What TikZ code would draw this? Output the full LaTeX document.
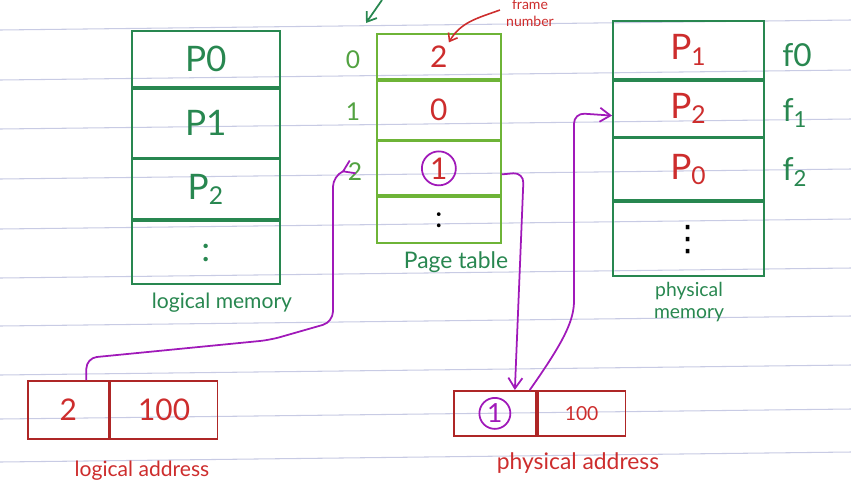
\documentclass[tikz,border=0pt]{standalone}
\usepackage{fontspec}
\setmainfont{Lato}
\newfontfamily\dotsfont{DejaVu Sans}
\usepackage{tikz}
\usetikzlibrary{arrows.meta}
\definecolor{memgreen}{RGB}{40,135,80}
\definecolor{tabgreen}{RGB}{110,180,55}
\definecolor{inkred}{RGB}{205,45,45}
\definecolor{inkpurple}{RGB}{160,25,185}
\definecolor{rulecol}{RGB}{200,203,228}

\begin{document}
\begin{tikzpicture}[x=0.02cm, y=-0.02cm,
    cell/.style={draw, line width=1pt, inner sep=0pt, anchor=north west},
    lmcell/.style={cell, memgreen, minimum width=2.96cm, font=\fontsize{20}{22}\selectfont},
    ptcell/.style={cell, tabgreen, minimum width=2.48cm, text=inkred, font=\fontsize{17}{19}\selectfont},
    pmcell/.style={cell, memgreen, minimum width=3.02cm, text=inkred, font=\fontsize{20}{22}\selectfont},
    addrcell/.style={cell, inkred!85!black, minimum height=1.16cm, text=inkred, font=\fontsize{17}{19}\selectfont},
    ring/.style={circle, draw=inkpurple, line width=1pt, inner sep=1pt, minimum size=0.68cm},
    idx/.style={text=tabgreen!60!memgreen, font=\fontsize{14}{16}\selectfont},
    flabel/.style={text=memgreen, font=\fontsize{18}{20}\selectfont},
    caption/.style={font=\fontsize{12}{14}\selectfont},
    parrow/.style={inkpurple, line width=1pt, -{Straight Barb[length=6pt,width=8pt]}},
    ruled/.style={rulecol, line width=0.6pt}]
  \useasboundingbox (0,0) rectangle (851,487);

  % paper lines
  \foreach \y in {25,75,124,174,224,273,321,370,414,457}
    \draw[ruled] (0,\y+5) -- (851,\y-5);

  % logical memory
  \node[lmcell, minimum height=1.12cm] (lm0) at (131,30) {P0};
  \node[lmcell, minimum height=1.38cm] (lm1) at (lm0.south west) {P1};
  \node[lmcell, minimum height=1.2cm] (lm2) at (lm1.south west) {P\textsubscript{2}};
  \node[lmcell, minimum height=1.26cm] (lm3) at (lm2.south west) {:};
  \node[caption, text=memgreen] (lmcap) at (222,303) {logical memory};

  % page table
  \node[ptcell, minimum height=0.9cm] (pt0) at (376,33) {2};
  \node[ptcell, minimum height=1.18cm] (pt1) at (pt0.south west) {0};
  \node[ptcell, minimum height=1.08cm] (pt2) at (pt1.south west) {};
  \node[ptcell, minimum height=0.92cm, text=black] (pt3) at (pt2.south west) {:};
  \node[ring, text=inkred, font=\fontsize{17}{19}\selectfont] (ptone) at (pt2) {1};
  \node[idx] (i0) at (353,60) {0};
  \node[idx] (i1) at (353,112) {1};
  \node[idx] (i2) at (355,172) {2};
  \node[caption, text=memgreen, font=\fontsize{13}{15}\selectfont] (ptcap) at (456,262) {Page table};
  \node[text=inkred, align=center, font=\fontsize{8}{9.5}\selectfont] (fnum) at (530,13) {frame\\number};
  \draw[inkred, line width=0.9pt, -{Straight Barb[length=4pt,width=6pt]}]
    ([yshift=0.06cm]fnum.west) to[out=200, in=60] ([xshift=0.2cm,yshift=0.28cm]pt0.center);
  \coordinate (gtop) at (382,0);
  \coordinate (gtip) at (366,23);
  \draw[memgreen, line width=1pt, -{Straight Barb[length=5pt,width=7pt]}] (gtop) -- (gtip);

  % physical memory
  \node[pmcell, minimum height=1.16cm] (pm0) at (612,20) {P\textsubscript{1}};
  \node[pmcell, minimum height=1.12cm] (pm1) at (pm0.south west) {P\textsubscript{2}};
  \node[pmcell, minimum height=1.24cm] (pm2) at (pm1.south west) {P\textsubscript{0}};
  \node[pmcell, minimum height=1.48cm, text=black, font=\dotsfont\fontsize{20}{22}\selectfont] (pm3) at (pm2.south west) {⋮};
  \node[flabel] (f0) at (797,55) {f0};
  \node[flabel] (f1) at (795,113) {f\textsubscript{1}};
  \node[flabel] (f2) at (795,172) {f\textsubscript{2}};
  \node[caption, text=memgreen, align=center, font=\fontsize{11}{12.5}\selectfont] (pmcap) at (689,302) {physical\\memory};

  % logical address
  \node[addrcell, minimum width=1.62cm] (la0) at (27,380) {2};
  \node[addrcell, minimum width=2.14cm] (la1) at (la0.north east) {100};
  \node[caption, text=inkred] (lacap) at (142,471) {logical address};

  % physical address
  \node[addrcell, minimum width=1.64cm, minimum height=0.9cm] (pa0) at (453,390) {};
  \node[addrcell, minimum width=1.76cm, minimum height=0.9cm, font=\fontsize{11}{13}\selectfont] (pa1) at (pa0.north east) {100};
  \node[ring, text=inkpurple, minimum size=0.62cm, font=\fontsize{15}{17}\selectfont] (paone) at (pa0) {1};
  \node[caption, text=inkred, font=\fontsize{13}{15}\selectfont] (pacap) at (578,463) {physical address};

  % translation
  \draw[parrow, rounded corners=6pt] ([xshift=0.36cm]la0.north) -- ++(0,-22) -- (270,340) -- (333,322) -- (333,176) -- (i2.west);
  \draw[parrow, rounded corners=6pt] ([yshift=-0.12cm]pt2.east) -- ++(22,-2) -- ([xshift=0.4cm]pa0.north);
  \draw[parrow, rounded corners=6pt] ([xshift=-0.14cm]pa0.north east) .. controls (565,340) and (574,320) .. (574,290) -- (574,113) -- ([yshift=-0.14cm]pm1.west);
\end{tikzpicture}
\end{document}
